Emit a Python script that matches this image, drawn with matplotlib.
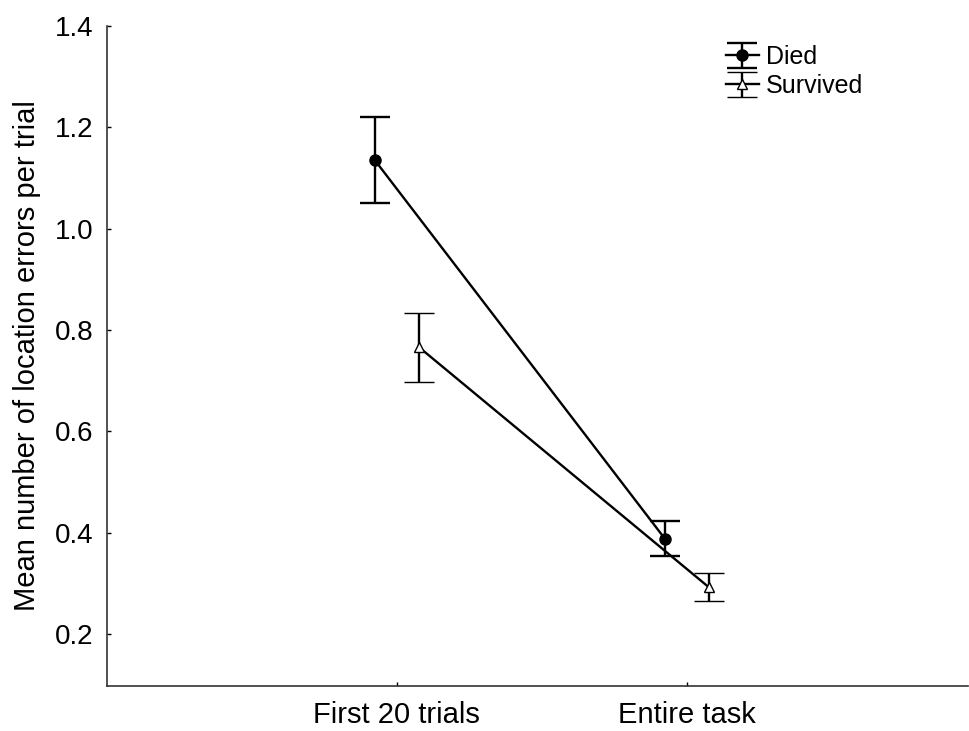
import matplotlib
matplotlib.use("Agg")
import matplotlib.pyplot as plt
import numpy as np

plt.rcParams['font.family'] = ['Liberation Sans', 'DejaVu Sans']

categories = ["First 20 trials", "Entire task"]
died_mean = [1.135, 0.388]
died_err = [0.085, 0.034]
survived_mean = [0.766, 0.292]
survived_err = [0.068, 0.028]
yticks = [0.2, 0.4, 0.6, 0.8, 1.0, 1.2, 1.4]

fig = plt.figure(figsize=(9.69, 7.31), dpi=100)
ax = fig.add_axes([107 / 969, 1 - 686 / 731, 861 / 969, 660 / 731])

x = np.arange(len(categories))
offset = 0.076

ax.errorbar(x - offset, died_mean, yerr=died_err, color='black', lw=1.7,
            elinewidth=1.7, capsize=11, capthick=1.7, marker='o', ms=8,
            mfc='black', mec='black', label='Died')
ax.errorbar(x + offset, survived_mean, yerr=survived_err, color='black', lw=1.7,
            elinewidth=1.7, capsize=11, capthick=1.7, marker='^', ms=7.5,
            mfc='white', mec='black', mew=1.0, label='Survived')

ax.set_xlim(-1, 1.97)
ax.set_ylim(0.097, 1.4)
ax.set_xticks(x)
ax.set_xticklabels(categories)
ax.set_yticks(yticks)
ax.set_yticklabels([f"{v:.1f}" for v in yticks])
ax.tick_params(direction='in', length=3, width=1, labelsize=20, pad=10)
ax.tick_params(axis='x', labelsize=21, pad=11)
for side in ('top', 'right'):
    ax.spines[side].set_visible(False)
for side in ('left', 'bottom'):
    ax.spines[side].set_linewidth(1.2)
    ax.spines[side].set_color('#333333')

ax.set_ylabel("Mean number of location errors per trial", fontsize=21, labelpad=10)

ax.legend(loc='upper left', bbox_to_anchor=(0.693, 1.005), frameon=False,
          fontsize=18, handlelength=1.3, handletextpad=0.3, labelspacing=0.2)

fig.savefig("out.png", dpi=100)
